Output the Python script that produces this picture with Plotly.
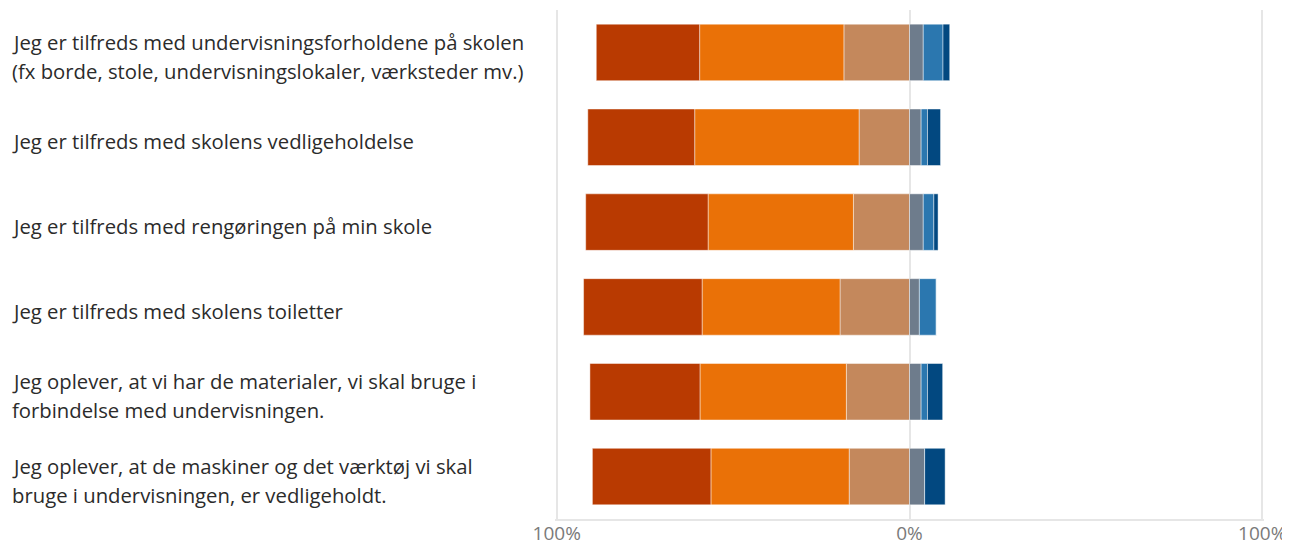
import plotly.graph_objects as go

# Questions (each split into display lines)
questions = [
    ["Jeg er tilfreds med undervisningsforholdene på skolen",
     "(fx borde, stole, undervisningslokaler, værksteder mv.)"],
    ["Jeg er tilfreds med skolens vedligeholdelse"],
    ["Jeg er tilfreds med rengøringen på min skole"],
    ["Jeg er tilfreds med skolens toiletter"],
    ["Jeg oplever, at vi har de materialer, vi skal bruge i",
     "forbindelse med undervisningen."],
    ["Jeg oplever, at de maskiner og det værktøj vi skal",
     "bruge i undervisningen, er vedligeholdt."],
]
categories = [" ".join(q) for q in questions]

# Percent shares (left side = positive answers, right side = negative answers)
helt_enig = [29.3, 30.3, 34.7, 33.6, 31.2, 33.6]      # dark red
enig = [40.9, 46.6, 41.2, 39.1, 41.5, 39.2]           # orange
delvis_enig = [18.6, 14.3, 15.9, 19.7, 17.9, 17.1]    # tan
delvis_uenig = [3.9, 3.3, 3.9, 2.8, 3.3, 4.3]         # grey
uenig = [5.6, 1.8, 3.0, 4.8, 1.8, 0.0]                # blue
helt_uenig = [1.9, 3.7, 1.2, 0.0, 4.3, 5.8]           # dark blue

tick_vals = [-100, 0, 100]
tick_text = ["100%", "0%", "100%"]

left_series = [
    ("Delvis enig", delvis_enig, "#C4885C"),
    ("Enig", enig, "#EA7107"),
    ("Helt enig", helt_enig, "#B93A01"),
]
right_series = [
    ("Delvis uenig", delvis_uenig, "#6E7C8C"),
    ("Uenig", uenig, "#2B77AF"),
    ("Helt uenig", helt_uenig, "#024880"),
]

fig = go.Figure()
for name, vals, col in left_series:
    fig.add_trace(go.Bar(
        y=list(range(len(categories))), x=[-v for v in vals], orientation="h",
        name=name, marker=dict(color=col, line=dict(color="rgba(255,255,255,0.45)", width=1)),
        hovertext=categories, showlegend=False))
for name, vals, col in right_series:
    fig.add_trace(go.Bar(
        y=list(range(len(categories))), x=vals, orientation="h",
        name=name, marker=dict(color=col, line=dict(color="rgba(255,255,255,0.45)", width=1)),
        hovertext=categories, showlegend=False))

annotations = []
line_h = 29
for i, lines in enumerate(questions):
    n = len(lines)
    for j, ln in enumerate(lines):
        shift = ((n - 1) / 2 - j) * line_h - 4
        annotations.append(dict(
            x=0, xref="paper", xanchor="left", xshift=-545,
            y=i, yref="y", yanchor="middle", yshift=shift,
            text=ln, showarrow=False, align="left",
            font=dict(family="Open Sans", size=20.3, color="#2b2b2b")))

fig.update_layout(
    width=1282, height=537,
    barmode="relative", bargap=0.334,
    margin=dict(l=547, r=26, t=2, b=26, autoexpand=False),
    plot_bgcolor="white", paper_bgcolor="white",
    annotations=annotations,
    xaxis=dict(range=[-100.5, 100.5], tickvals=tick_vals, ticktext=tick_text,
               showgrid=True, gridcolor="#e6e6e6", gridwidth=1.5,
               zeroline=True, zerolinecolor="#e6e6e6", zerolinewidth=1.5,
               showline=True, linecolor="#e6e6e6", linewidth=1.5,
               tickfont=dict(family="Open Sans", size=19, color="#7a7a7a"),
               ticklabelstandoff=-4,
               ticks="", automargin=False, fixedrange=True),
    yaxis=dict(range=[5.5, -0.5], showticklabels=False, showgrid=False,
               zeroline=False, automargin=False, fixedrange=True),
)

fig.write_html("out.html")
